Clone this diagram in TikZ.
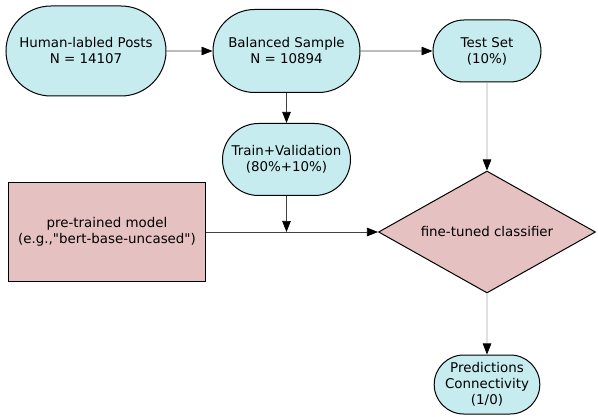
\documentclass[tikz,border=0pt]{standalone}
\usepackage{fontspec}
\setmainfont{DejaVu Sans}
\usepackage{tikz}
\usetikzlibrary{arrows.meta, shapes.geometric, shapes.misc, positioning}
\definecolor{cyanFill}{RGB}{199,236,240}
\definecolor{pinkFill}{RGB}{230,193,193}
\tikzstyle{fTerminal} = [rounded rectangle, draw=black, line width=1pt, fill=cyanFill, align=center, inner sep=1pt]
\tikzstyle{fModel} = [rectangle, draw=black, line width=1pt, fill=pinkFill, align=center, minimum width=197pt, minimum height=99pt]
\tikzstyle{fDecision} = [diamond, aspect=1.78, draw=black, line width=1pt, fill=pinkFill, align=center, minimum width=217pt, minimum height=122pt, inner sep=0pt]
\tikzstyle{fArrow} = [draw=black!75, line width=0.7pt, -{Triangle[length=11pt,width=8.5pt,black]}]
\tikzstyle{fArrowGray} = [draw=black!35, line width=0.7pt, -{Triangle[length=11pt,width=8.5pt,black]}]

\begin{document}
\begin{tikzpicture}[x=1pt, y=1pt, font=\fontsize{13.4}{16}\selectfont]
    \useasboundingbox (0,0) rectangle (598,416);
    \node (human) [fTerminal, minimum width=162pt, minimum height=90pt] at (86,365) {Human-labled Posts\\N = 14107};
    \node (balanced) [fTerminal, right=46pt of human, minimum width=149pt, minimum height=83pt] {Balanced Sample\\N = 10894};
    \node (test) [fTerminal, right=72pt of balanced, minimum width=110pt, minimum height=62pt] {Test Set\\(10\%)};
    \node (train) [fTerminal, below=30pt of balanced, minimum width=130pt, minimum height=72pt] {Train+Validation\\(80\%+10\%)};
    \node (classifier) [fDecision, below=88pt of test] {fine-tuned classifier};
    \node (pretrained) [fModel, left=172pt of classifier] {pre-trained model\\(e.g.,\textquotedbl bert-base-uncased\textquotedbl)};
    \node (predict) [fTerminal, below=61pt of classifier, minimum width=105pt, minimum height=59pt] {Predictions\\Connectivity\\(1/0)};
    \coordinate (join) at (train.south |- pretrained.east);

    \draw [fArrow] (human) -- (balanced);
    \draw [fArrow] (balanced) -- (test);
    \draw [fArrow] (balanced) -- (train);
    \draw [fArrowGray] (test) -- (classifier);
    \draw [fArrow] (pretrained) -- (classifier);
    \draw [fArrow] (train) -- (join);
    \draw [fArrowGray] (classifier) -- (predict);
\end{tikzpicture}
\end{document}
